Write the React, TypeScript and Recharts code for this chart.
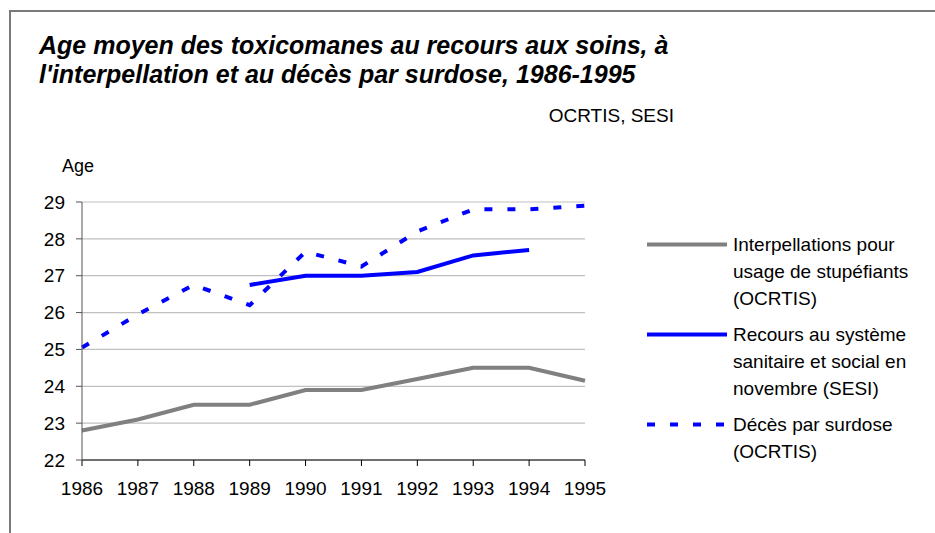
import React from 'react';
import { LineChart, Line, XAxis, YAxis, CartesianGrid, Legend } from 'recharts';

const years = ['1986', '1987', '1988', '1989', '1990', '1991', '1992', '1993', '1994', '1995'];
const interpellations = [22.8, 23.1, 23.5, 23.5, 23.9, 23.9, 24.2, 24.5, 24.5, 24.15];
const recours = [null, null, null, 26.75, 27.0, 27.0, 27.1, 27.55, 27.7, null];
const deces = [25.05, 25.95, 26.75, 26.2, 27.65, 27.25, 28.2, 28.8, 28.8, 28.9];
const yTicks = [22, 23, 24, 25, 26, 27, 28, 29];

const seriesOrder = ['interpellations', 'recours', 'deces'];
const legendLines: Record<string, string[]> = {
    interpellations: ['Interpellations pour', 'usage de stupéfiants', '(OCRTIS)'],
    recours: ['Recours au système', 'sanitaire et social en', 'novembre (SESI)'],
    deces: ['Décès par surdose', '(OCRTIS)'],
};

const data = years.map((year, i) => ({
    year,
    interpellations: interpellations[i],
    recours: recours[i],
    deces: deces[i],
}));

const FONT = '"Liberation Sans", Arial, sans-serif';
const GRAY = '#808080';
const BLUE = '#0000ff';

const renderLegend = (props: any) => {
    const payload = [...(props.payload || [])].sort(
        (a: any, b: any) => seriesOrder.indexOf(a.dataKey) - seriesOrder.indexOf(b.dataKey)
    );
    return (
        <div style={{ fontFamily: FONT, fontSize: 19, color: '#000', textAlign: 'left' }}>
            {payload.map((entry: any) => {
                const key = entry.dataKey as string;
                const dashed = key === 'deces';
                return (
                    <div key={key} style={{ display: 'flex', alignItems: 'flex-start', marginBottom: 9 }}>
                        <svg width={88} height={27} style={{ flexShrink: 0 }}>
                            <line
                                x1={2}
                                x2={82}
                                y1={13.5}
                                y2={13.5}
                                stroke={entry.color}
                                strokeWidth={4}
                                strokeDasharray={dashed ? '8 15' : undefined}
                            />
                        </svg>
                        <div style={{ lineHeight: '27px' }}>
                            {legendLines[key].map((l) => (
                                <div key={l}>{l}</div>
                            ))}
                        </div>
                    </div>
                );
            })}
        </div>
    );
};

export default function App() {
    return (
        <div style={{ position: 'absolute', left: 0, top: 0, width: 935, height: 533, background: '#fff', overflow: 'hidden', fontFamily: FONT }}>
            <div
                style={{
                    position: 'absolute',
                    left: 9,
                    top: 10,
                    width: 1000,
                    height: 600,
                    borderTop: '2px solid #7a7a7a',
                    borderLeft: '2px solid #7a7a7a',
                }}
            />
            <div style={{ position: 'absolute', left: 39, top: 31, fontSize: 25, fontWeight: 'bold', fontStyle: 'italic', lineHeight: '29px', whiteSpace: 'nowrap' }}>
                <div>Age moyen des toxicomanes au recours aux soins, à</div>
                <div>l'interpellation et au décès par surdose, 1986-1995</div>
            </div>
            <div style={{ position: 'absolute', right: 935 - 674, top: 104, fontSize: 19, lineHeight: '24px', whiteSpace: 'nowrap' }}>
                OCRTIS, SESI
            </div>
            <div style={{ position: 'absolute', left: 62, top: 154, fontSize: 18, lineHeight: '24px' }}>Age</div>
            <LineChart width={935} height={533} data={data} margin={{ top: 202, right: 350, bottom: 43, left: 0 }}>
                <CartesianGrid vertical={false} stroke="#c0c0c0" strokeWidth={1.2} />
                <XAxis
                    dataKey="year"
                    stroke="#000"
                    tickSize={6}
                    tickMargin={16}
                    height={30}
                    tick={{ fill: '#000', fontSize: 19, fontFamily: FONT }}
                    interval={0}
                />
                <YAxis
                    domain={[22, 29]}
                    ticks={yTicks}
                    width={82}
                    stroke="#555"
                    tickSize={6}
                    tickMargin={11}
                    tick={{ fill: '#000', fontSize: 19, fontFamily: FONT }}
                    interval={0}
                />
                <Legend
                    layout="vertical"
                    verticalAlign="middle"
                    align="center"
                    content={renderLegend}
                    wrapperStyle={{ position: 'absolute', left: 645, top: 231, width: 290 }}
                />
                <Line
                    type="linear"
                    dataKey="interpellations"
                    stroke={GRAY}
                    strokeWidth={4}
                    dot={false}
                    isAnimationActive={false}
                />
                <Line
                    type="linear"
                    dataKey="recours"
                    stroke={BLUE}
                    strokeWidth={4}
                    dot={false}
                    isAnimationActive={false}
                />
                <Line
                    type="linear"
                    dataKey="deces"
                    stroke={BLUE}
                    strokeWidth={4}
                    strokeDasharray="8 15"
                    dot={false}
                    isAnimationActive={false}
                />
            </LineChart>
        </div>
    );
}
